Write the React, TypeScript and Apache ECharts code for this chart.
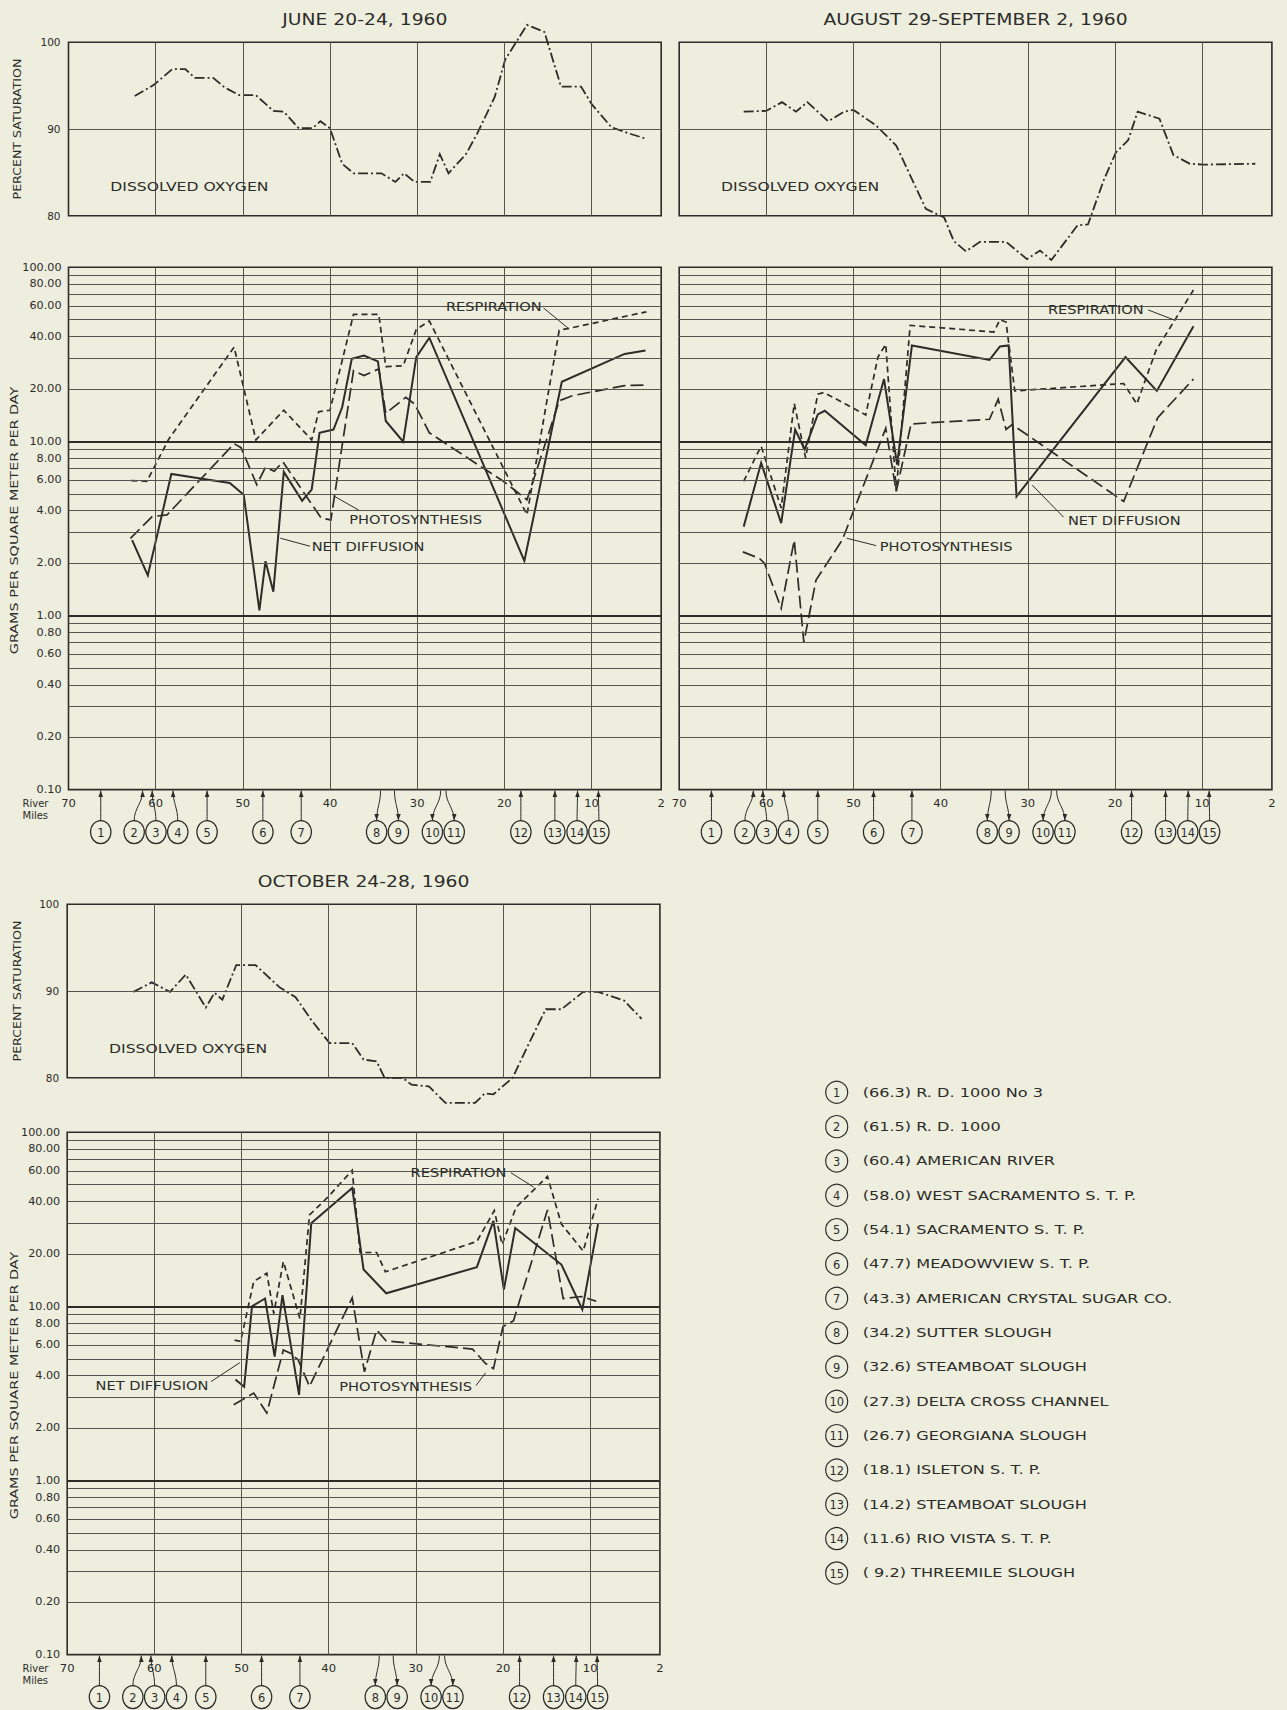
import React, { useEffect, useRef } from "react";
import * as echarts from "echarts";

// ---------- data (river mile, value) ----------
const xTickLabels = [70, 60, 50, 40, 30, 20, 10, 2];
const xGridMiles = [60, 50, 40, 30, 20, 10];
const doTicks = [80, 90, 100];
const logLabelValues = [100, 80, 60, 40, 20, 10, 8, 6, 4, 2, 1, 0.8, 0.6, 0.4, 0.2, 0.1];
const logGridValues = [0.2, 0.3, 0.4, 0.5, 0.6, 0.7, 0.8, 0.9, 1, 2, 3, 4, 5, 6, 7, 8, 9, 10, 20, 30, 40, 50, 60, 70, 80, 90];
const heavyLogLines = [1, 10];

const stationMiles = [66.3, 61.5, 60.4, 58.0, 54.1, 47.7, 43.3, 34.2, 32.6, 27.3, 26.7, 18.1, 14.2, 11.6, 9.2];
const stationNames = [
  "R. D. 1000 No 3", "R. D. 1000", "AMERICAN RIVER", "WEST SACRAMENTO S. T. P.", "SACRAMENTO S. T. P.",
  "MEADOWVIEW S. T. P.", "AMERICAN CRYSTAL SUGAR CO.", "SUTTER SLOUGH", "STEAMBOAT SLOUGH",
  "DELTA CROSS CHANNEL", "GEORGIANA SLOUGH", "ISLETON S. T. P.", "STEAMBOAT SLOUGH",
  "RIO VISTA S. T. P.", "THREEMILE SLOUGH",
];
const downArrowStations = [8, 9, 10, 11];

const junDO = [[62.4,93.8],[60.2,95.1],[58.1,96.9],[56.6,96.9],[55.5,95.9],[53.4,95.9],[52.1,94.8],[50.4,93.9],[48.5,93.9],[46.5,92.1],[45.3,92.0],[43.6,90.1],[42.0,90.1],[41.1,90.9],[40.0,90.1],[38.6,86.0],[37.3,84.9],[34.1,84.9],[32.5,83.9],[31.5,84.9],[30.3,83.9],[28.5,83.9],[27.4,87.1],[26.4,84.9],[24.4,87.1],[23.1,89.5],[21.1,93.7],[19.9,98.0],[17.4,102.0],[15.4,101.2],[13.5,94.9],[11.2,94.9],[10.0,92.9],[7.7,90.2],[5.7,89.5],[3.8,88.9]];
const junResp = [[62.8,5.96],[61.0,5.9],[58.5,10.3],[51.0,34.8],[48.5,10.2],[45.3,15.1],[42.1,10.2],[41.3,14.8],[40.0,15.1],[37.3,53.7],[34.4,53.7],[33.6,26.9],[31.6,27.2],[30.1,43.9],[28.6,49.2],[17.4,3.79],[13.7,43.5],[12.4,44.8],[3.7,55.5]];
const junNet = [[62.7,2.71],[60.9,1.70],[58.2,6.5],[54.5,6.08],[51.5,5.77],[49.9,4.94],[48.1,1.07],[47.4,2.05],[46.5,1.37],[45.3,6.68],[43.2,4.56],[42.1,5.29],[41.2,11.2],[39.6,11.7],[38.6,15.7],[37.5,29.8],[36.1,31.1],[34.5,28.8],[33.6,13.1],[31.6,9.96],[30.1,30.5],[28.6,39.4],[17.7,2.06],[13.4,22.0],[6.2,31.8],[3.8,33.3]];
const junPhoto = [[62.9,2.77],[60.4,3.7],[58.7,3.78],[51.0,9.7],[50.2,9.2],[48.4,5.64],[47.4,7.1],[46.4,6.75],[45.4,7.63],[41.0,3.62],[39.9,3.54],[37.3,25.5],[36.1,23.9],[34.4,26.1],[33.6,14.5],[31.3,17.9],[30.3,16.4],[28.6,11.2],[21.6,6.6],[20.1,5.9],[17.4,4.62],[13.7,17.1],[12.2,18.3],[6.2,20.9],[3.7,21.1]];

const augDO = [[62.6,92.0],[60.0,92.1],[58.2,93.1],[56.6,92.0],[55.3,93.1],[52.9,90.9],[51.1,92.0],[50.0,92.2],[47.4,90.4],[45.1,88.1],[41.7,80.8],[39.6,79.8],[38.5,77.1],[37.1,75.9],[35.5,77.0],[32.5,77.0],[30.1,75.0],[28.6,76.0],[27.3,74.9],[26.1,76.5],[24.3,78.9],[23.1,79.0],[21.3,84.1],[19.9,87.3],[18.5,88.7],[17.4,92.0],[14.9,91.2],[13.3,87.0],[11.4,86.0],[9.8,85.9],[3.9,86.0]];
const augResp = [[62.6,5.9],[60.6,9.4],[58.3,4.14],[56.8,16.5],[55.5,8.05],[54.1,18.7],[53.4,19.1],[48.6,14.2],[47.2,30.5],[46.3,36.1],[45.1,5.2],[43.5,46.4],[33.9,42.5],[33.2,50.0],[32.5,48.5],[31.5,19.5],[19.0,21.5],[17.5,16.4],[15.3,33.3],[11.0,74.0]];
const augNet = [[62.6,3.24],[60.6,7.53],[58.3,3.39],[56.7,11.7],[55.6,8.99],[54.1,14.3],[53.3,15.0],[48.6,9.5],[46.5,22.8],[45.0,7.37],[43.3,35.6],[34.4,29.4],[33.2,35.1],[32.2,35.6],[31.3,4.83],[18.8,30.5],[15.2,19.5],[11.0,45.8]];
const augPhoto = [[62.7,2.32],[60.8,2.13],[60.2,1.99],[58.3,1.10],[56.8,2.71],[55.7,0.70],[54.3,1.60],[51.3,2.71],[46.3,11.9],[45.1,5.16],[43.4,12.6],[34.4,13.4],[33.4,17.5],[32.5,11.7],[31.8,12.5],[19.0,4.52],[15.1,13.7],[11.0,22.8]];

const octDO = [[62.4,89.9],[60.3,91.0],[58.2,89.9],[56.4,91.9],[54.1,88.1],[53.1,89.8],[52.2,89.0],[50.6,93.0],[48.4,93.0],[45.6,90.4],[43.8,89.3],[42.1,86.8],[39.9,84.0],[37.3,84.0],[36.0,82.1],[34.5,81.9],[33.6,80.0],[31.5,80.0],[30.5,79.2],[28.5,79.0],[26.6,77.1],[23.2,77.1],[22.1,78.2],[21.1,78.1],[18.9,80.0],[17.3,83.4],[15.1,87.9],[13.3,87.9],[10.8,89.9],[9.1,89.9],[6.1,88.9],[4.1,86.8]];
const octResp = [[50.8,6.4],[50.1,6.3],[48.6,13.9],[47.1,15.5],[46.3,9.1],[45.2,18.1],[43.3,8.5],[42.2,33.5],[40.1,42.4],[37.3,60.5],[36.4,20.4],[34.5,20.4],[33.5,15.8],[23.0,23.6],[21.0,35.5],[20.1,22.7],[18.5,37.1],[14.9,55.8],[13.3,29.7],[10.8,20.8],[9.1,41.5]];
const octNet = [[50.7,3.8],[49.7,3.45],[48.8,10.0],[47.3,11.1],[46.2,5.15],[45.3,11.6],[43.4,3.1],[42.0,30.0],[37.3,47.9],[36.0,16.3],[33.4,11.9],[23.0,16.8],[21.1,31.0],[19.9,12.5],[18.6,28.2],[13.3,17.4],[10.9,9.6],[9.1,29.7]];
const octPhoto = [[50.9,2.72],[48.6,3.18],[47.1,2.44],[45.2,5.62],[44.4,5.38],[43.5,4.93],[42.2,3.47],[37.3,11.2],[35.9,4.21],[34.5,7.33],[33.4,6.33],[23.5,5.69],[22.0,4.7],[21.1,4.39],[20.0,7.66],[18.8,8.26],[14.9,35.8],[13.1,11.1],[11.0,11.4],[9.3,10.7]];

// annotations: text anchor and leader in (mile, value) of the log panel
const junNotes = [
  { text: "RESPIRATION", at: [26.7, 59.4], align: "left", leader: [[15.5, 58.4], [12.7, 44.8]] },
  { text: "PHOTOSYNTHESIS", at: [37.8, 3.56], align: "left", leader: [[36.7, 4.03], [39.5, 4.84]] },
  { text: "NET DIFFUSION", at: [42.1, 2.5], align: "left", leader: [[42.3, 2.5], [45.7, 2.78]] },
];
const augNotes = [
  { text: "RESPIRATION", at: [27.7, 57.5], align: "left", leader: [[16.2, 56.9], [13.2, 49.8]] },
  { text: "NET DIFFUSION", at: [25.4, 3.5], align: "left", leader: [[25.9, 3.67], [29.5, 5.61]] },
  { text: "PHOTOSYNTHESIS", at: [47.0, 2.5], align: "left", leader: [[47.4, 2.52], [50.8, 2.78]] },
];
const octNotes = [
  { text: "RESPIRATION", at: [30.6, 58.6], align: "left", leader: [[19.1, 58.6], [16.5, 48.5]] },
  { text: "NET DIFFUSION", at: [53.8, 3.54], align: "right", leader: [[53.5, 3.7], [50.2, 4.75]] },
  { text: "PHOTOSYNTHESIS", at: [38.8, 3.49], align: "left", leader: [[23.1, 3.51], [22.0, 4.15]] },
];

// ---------- layout / style ----------
const W = 1287, H = 1710;
const BG = "#eeeedf";
const INK = "#2c2c28";
const GRIDC = "#55554e";
const FONT = "DejaVu Sans, Verdana, sans-serif";
const PW = 592.7, DOH = 173.5, LOGH = 522.3;

const panels = [
  { title: "JUNE 20-24, 1960", left: 68.5, doTop: 42.3, logTop: 267.3, yLabels: true, DO: junDO, resp: junResp, net: junNet, photo: junPhoto, notes: junNotes },
  { title: "AUGUST 29-SEPTEMBER 2, 1960", left: 679.2, doTop: 42.3, logTop: 267.3, yLabels: false, DO: augDO, resp: augResp, net: augNet, photo: augPhoto, notes: augNotes },
  { title: "OCTOBER 24-28, 1960", left: 67.2, doTop: 904.3, logTop: 1132.3, yLabels: true, DO: octDO, resp: octResp, net: octNet, photo: octPhoto, notes: octNotes },
];

function T(x: number, y: number, text: string, size: number, o: any = {}) {
  const align = o.align || "left";
  return {
    type: "text", x, y, rotation: o.rot || 0, scaleX: o.sx ?? 1.12, scaleY: 1, silent: true, z: 10,
    style: {
      text, fontSize: size, fontFamily: FONT, fill: INK,
      align, textAlign: align, verticalAlign: "middle", textVerticalAlign: "middle",
    },
  };
}

function gridHelper(g: number, pairs: any[], yMid: number) {
  return {
    type: "line", xAxisIndex: g, yAxisIndex: g, data: [[36, yMid]], symbol: "none", silent: true, z: 1,
    lineStyle: { opacity: 0, width: 0 },
    markLine: {
      silent: true, symbol: ["none", "none"], label: { show: false }, animation: false,
      lineStyle: { color: GRIDC, width: 1, type: "solid", opacity: 1 },
      emphasis: { disabled: true },
      data: pairs,
    },
  };
}

function dataLine(g: number, data: number[][], type: any, width: number) {
  return {
    type: "line", xAxisIndex: g, yAxisIndex: g, data, symbol: "none", showSymbol: false,
    clip: false, silent: true, z: 3,
    lineStyle: { color: INK, width, type, cap: "butt", join: "miter" },
  };
}

function buildOption() {
  const grid: any[] = [], xAxis: any[] = [], yAxis: any[] = [], series: any[] = [];
  panels.forEach((p, i) => {
    const gDO = 2 * i, gLog = 2 * i + 1;
    const gridStyle = { show: true, borderColor: INK, borderWidth: 1.6, backgroundColor: "transparent", containLabel: false };
    grid.push({ left: p.left, top: p.doTop, width: PW, height: DOH, ...gridStyle });
    grid.push({ left: p.left, top: p.logTop, width: PW, height: LOGH, ...gridStyle });
    xAxis.push({ gridIndex: gDO, type: "value", min: 2, max: 70, inverse: true, show: false });
    xAxis.push({ gridIndex: gLog, type: "value", min: 2, max: 70, inverse: true, show: false });
    yAxis.push({ gridIndex: gDO, type: "value", min: 80, max: 100, show: false });
    yAxis.push({ gridIndex: gLog, type: "log", logBase: 10, min: 0.1, max: 100, show: false });

    const doPairs: any[] = xGridMiles.map((m) => [{ coord: [m, 80] }, { coord: [m, 100] }]);
    doPairs.push([{ coord: [70, 90] }, { coord: [2, 90] }]);
    const logPairs: any[] = xGridMiles.map((m) => [{ coord: [m, 0.1] }, { coord: [m, 100] }]);
    logGridValues.forEach((v) => {
      const heavy = heavyLogLines.indexOf(v) >= 0;
      logPairs.push([{ coord: [70, v], lineStyle: { width: heavy ? 2.2 : 1, color: heavy ? INK : GRIDC } }, { coord: [2, v] }]);
    });
    series.push(gridHelper(gDO, doPairs, 90), gridHelper(gLog, logPairs, 1));

    series.push(dataLine(gDO, p.DO, [10, 3, 2, 3], 1.8));
    series.push(dataLine(gLog, p.resp, [6, 4], 1.7));
    series.push(dataLine(gLog, p.photo, [13, 5], 1.7));
    series.push(dataLine(gLog, p.net, "solid", 2));
  });
  return { animation: false, backgroundColor: BG, grid, xAxis, yAxis, series };
}

function spread(xs: number[], gap: number): number[] {
  let clusters = xs.map((x, i) => ({ idx: [i], center: x }));
  let merged = true;
  while (merged) {
    merged = false;
    for (let i = 0; i < clusters.length - 1; i++) {
      const a = clusters[i], b = clusters[i + 1];
      const aR = a.center + ((a.idx.length - 1) * gap) / 2;
      const bL = b.center - ((b.idx.length - 1) * gap) / 2;
      if (bL - aR < gap) {
        const idx = a.idx.concat(b.idx);
        const center = idx.reduce((s, k) => s + xs[k], 0) / idx.length;
        clusters.splice(i, 2, { idx, center });
        merged = true;
        break;
      }
    }
  }
  const out: number[] = [];
  clusters.forEach((c) => c.idx.forEach((k, j) => { out[k] = c.center + (j - (c.idx.length - 1) / 2) * gap; }));
  return out;
}

function buildGraphic(chart: any) {
  const els: any[] = [];
  const P = (g: number, m: number, v: number) => chart.convertToPixel({ gridIndex: g }, [m, v]) as number[];
  const R = 11;

  panels.forEach((p, i) => {
    const gDO = 2 * i, gLog = 2 * i + 1;
    els.push(T(p.left + PW / 2, p.doTop - 23, p.title, 15.5, { align: "center", sx: 1.21 }));

    if (p.yLabels) {
      doTicks.forEach((v) => { const [x, y] = P(gDO, 70, v); els.push(T(x - 8, y, String(v), 10, { align: "right", sx: 1.05 })); });
      logLabelValues.forEach((v) => { const [x, y] = P(gLog, 70, v); els.push(T(x - 7, y, v.toFixed(2), 10, { align: "right", sx: 1.12 })); });
      els.push(T(17, p.doTop + DOH / 2, "PERCENT SATURATION", 10.5, { align: "center", rot: Math.PI / 2, sx: 1.2 }));
      els.push(T(14, p.logTop + LOGH / 2 - 8, "GRAMS PER SQUARE METER PER DAY", 10.5, { align: "center", rot: Math.PI / 2, sx: 1.37 }));
    }

    const axisY = P(gLog, 36, 0.1)[1];
    xTickLabels.forEach((m) => { const [x] = P(gLog, m, 0.1); els.push(T(x, axisY + 14, String(m), 11, { align: "center", sx: 1.05 })); });
    if (p.yLabels) {
      els.push(T(22.5, axisY + 14, "River", 10, { sx: 1.0 }));
      els.push(T(22.5, axisY + 26, "Miles", 10, { sx: 1.0 }));
    }

    const [dx, dy] = P(gDO, 65.2, 83.4);
    els.push(T(dx, dy, "DISSOLVED OXYGEN", 13, { sx: 1.2 }));

    p.notes.forEach((n) => {
      const [tx, ty] = P(gLog, n.at[0], n.at[1]);
      els.push(T(tx, ty, n.text, 12.5, { align: n.align, sx: 1.17 }));
      els.push({
        type: "polyline", silent: true, z: 9,
        shape: { points: n.leader.map((q) => P(gLog, q[0], q[1])) },
        style: { stroke: INK, lineWidth: 1, fill: "none" },
      });
    });

    const sx = stationMiles.map((m) => P(gLog, m, 0.1)[0]);
    const cxs = spread(sx, 2 * R - 0.2);
    const cy = axisY + 42.5;
    stationMiles.forEach((_, k) => {
      const num = k + 1;
      const cx = cxs[k], s = sx[k];
      const down = downArrowStations.indexOf(num) >= 0;
      els.push({
        type: "bezierCurve", silent: true, z: 9,
        shape: { x1: cx, y1: cy - R, x2: s, y2: axisY + 1, cpx1: cx, cpy1: axisY + 18, cpx2: s, cpy2: axisY + 14 },
        style: { stroke: INK, lineWidth: 1, fill: "none" },
      });
      if (down) {
        els.push({ type: "polygon", silent: true, z: 9, shape: { points: [[cx, cy - R - 0.5], [cx - 2.3, cy - R - 7], [cx + 2.3, cy - R - 7]] }, style: { fill: INK } });
      } else {
        els.push({ type: "polygon", silent: true, z: 9, shape: { points: [[s, axisY + 1], [s - 2.3, axisY + 7.5], [s + 2.3, axisY + 7.5]] }, style: { fill: INK } });
      }
      els.push({ type: "ellipse", silent: true, z: 9, shape: { cx, cy, rx: R - 0.8, ry: R + 0.5 }, style: { fill: "none", stroke: INK, lineWidth: 1.2 } });
      els.push(T(cx, cy + 0.5, String(num), 12, { align: "center", sx: 0.95 }));
    });
  });

  // station legend
  const lx = 836.7, ly0 = 1092.3, step = 34.33;
  stationMiles.forEach((m, k) => {
    const y = ly0 + k * step;
    els.push({ type: "circle", silent: true, z: 9, shape: { cx: lx, cy: y, r: 11 }, style: { fill: "none", stroke: INK, lineWidth: 1.2 } });
    els.push(T(lx, y + 0.5, String(k + 1), 12, { align: "center", sx: 0.95 }));
    const mile = m.toFixed(1);
    const label = "(" + (mile.length < 4 ? " " + mile : mile) + ") " + stationNames[k];
    els.push(T(lx + 26, y, label, 12.5, { sx: 1.29 }));
  });
  return els;
}

export default function App() {
  const ref = useRef<HTMLDivElement>(null);
  useEffect(() => {
    if (!ref.current) return;
    const chart = echarts.init(ref.current, null, { renderer: "svg" });
    chart.setOption(buildOption());
    chart.setOption({ graphic: buildGraphic(chart) });
    return () => chart.dispose();
  }, []);
  return (
    <div
      ref={ref}
      style={{ position: "absolute", left: 0, top: 0, width: W, height: H, background: BG }}
    />
  );
}
